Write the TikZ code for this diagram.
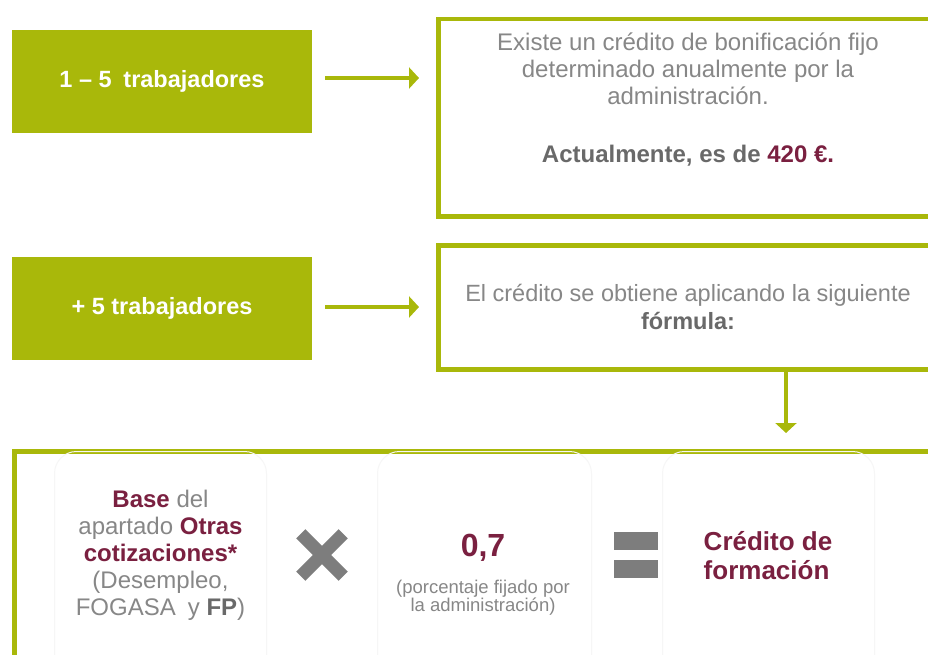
\documentclass[tikz,border=0pt]{standalone}
\usepackage{fontspec}
\setmainfont{Liberation Sans}
\usetikzlibrary{arrows.meta}
\definecolor{lgreen}{RGB}{169,184,10}
\definecolor{maroon}{RGB}{122,32,64}
\definecolor{txtgray}{RGB}{135,135,135}
\definecolor{dgray}{RGB}{105,105,105}
\definecolor{symgray}{RGB}{125,125,125}
\definecolor{faint}{RGB}{246,246,246}
\tikzset{
  gbox/.style={fill=lgreen, draw=none, minimum width=300pt, minimum height=103pt, inner sep=0pt,
    text=white, font=\fontsize{23.5}{26}\selectfont\bfseries},
  obox/.style={draw=lgreen, line width=4.5pt, fill=white, inner sep=0pt, anchor=north west},
  arr/.style={draw=lgreen, line width=4.5pt, -{Triangle[length=10pt,width=21pt]}},
  fbox/.style={draw=faint, line width=1pt, rounded corners=22pt, anchor=north west, inner sep=0pt},
  body/.style={text=txtgray, align=center, font=\fontsize{24}{27}\selectfont},
}
\begin{document}
\begin{tikzpicture}[x=1pt,y=-1pt]
\useasboundingbox (0,0) rectangle (928,655);
\clip (0,0) rectangle (928,655);
% top row
\node[gbox] (b1) at (162,81.5) {1 – 5\enspace trabajadores};
\node[obox, minimum width=504pt, minimum height=197pt] (b2) at (436,17) {};
\node[body, anchor=north, inner sep=0pt] (t2) at (688,32.5) {Existe un crédito de bonificación fijo\\determinado anualmente por la\\administración.\\[31pt]{\color{dgray}\bfseries Actualmente, es de {\color{maroon}420 €.}}};
\coordinate (a1e) at (419,78);
\draw[arr] ([xshift=13pt]b1.east |- a1e) -- (a1e);
% second row
\node[gbox] (b3) at (162,308) {+ 5 trabajadores};
\node[obox, minimum width=504pt, minimum height=124pt] (b4) at (436,243) {};
\node[body, anchor=north, font=\fontsize{23.5}{28}\selectfont] (t4) at (688,281) {El crédito se obtiene aplicando la siguiente\\{\color{dgray}\bfseries fórmula:}};
\coordinate (a2e) at (419,307);
\draw[arr] ([xshift=13pt]b3.east |- a2e) -- (a2e);
% down arrow
\coordinate (d) at (786,433);
\draw[arr] (b4.south -| d) -- (d);
% bottom box
\node[obox, minimum width=940pt, minimum height=240pt] (b5) at (12,449) {};
\node[fbox, minimum width=212pt, minimum height=230pt] (f1) at (54,451) {};
\node[fbox, minimum width=214pt, minimum height=230pt] (f2) at (377,451) {};
\node[fbox, minimum width=212pt, minimum height=230pt] (f3) at (662,451) {};
\node[body] (t5) at (f1.north |- 0,555) {{\color{maroon}\bfseries Base} del\\apartado {\color{maroon}\bfseries Otras}\\{\color{maroon}\bfseries cotizaciones*}\\(Desempleo,\\FOGASA\enspace y {\color{dgray}\bfseries FP})};
% multiply sign
\node[minimum size=52pt, inner sep=0pt] (mx) at (322,555) {};
\draw[symgray, line width=13pt] ([shift={(5pt,-5pt)}]mx.north west) -- ([shift={(-5pt,5pt)}]mx.south east);
\draw[symgray, line width=13pt] ([shift={(-5pt,-5pt)}]mx.north east) -- ([shift={(5pt,5pt)}]mx.south west);
% 0,7
\node[text=maroon, font=\fontsize{32}{34}\selectfont\bfseries] (v) at (483,548) {0,7};
\node[body, font=\fontsize{18.5}{18}\selectfont] (vs) at (483,598) {(porcentaje fijado por\\la administración)};
% equals
\node[fill=symgray, minimum width=44pt, minimum height=18pt, inner sep=0pt] (e1) at (635.5,541) {};
\node[fill=symgray, minimum width=44pt, minimum height=18pt, inner sep=0pt] (e2) at (635.5,568.5) {};
% result
\node[text=maroon, align=left, font=\fontsize{26}{29}\selectfont\bfseries] (r) at (768,556) {Crédito de\\formación};
\end{tikzpicture}
\end{document}
